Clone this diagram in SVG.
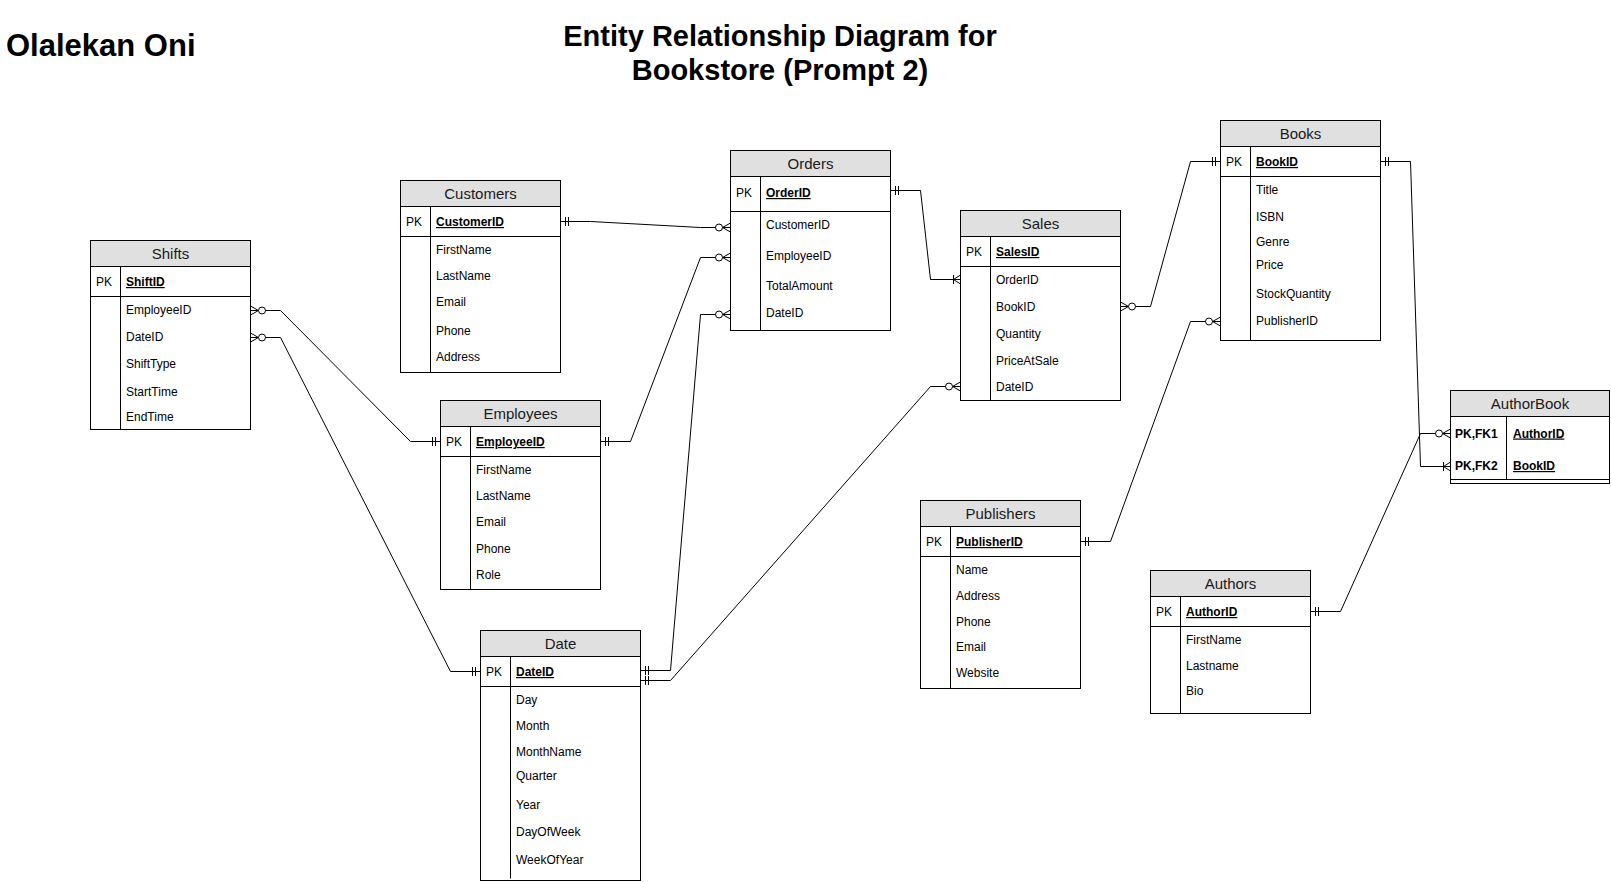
<svg xmlns="http://www.w3.org/2000/svg" width="1611" height="882" viewBox="0 0 1611 882">
<style>
.bg{fill:#fff}
.box{fill:#fff;stroke:#000;stroke-width:1}
.hdr{fill:#e0e0e0;stroke:#000;stroke-width:1}
.ln{fill:none;stroke:#000;stroke-width:1}
.t{font-family:"Liberation Sans",Arial,sans-serif;font-size:12px;fill:#000}
.pk{font-weight:bold;text-decoration:underline}
.b{font-weight:bold}
.h{font-family:"Liberation Sans",Arial,sans-serif;font-size:15px;text-anchor:middle;fill:#1a1a1a}
.title{font-family:"Liberation Sans",Arial,sans-serif;font-weight:bold;fill:#000}
.conn{fill:none;stroke:#000;stroke-width:1}
</style>
<defs>
<marker id="oo" markerUnits="userSpaceOnUse" orient="auto-start-reverse" viewBox="-20 -10 20 20" markerWidth="20" markerHeight="20" refX="0" refY="0">
<path d="M-5,-4.5V4.5M-8,-4.5V4.5" stroke="#000" fill="none"/>
</marker>
<marker id="zm" markerUnits="userSpaceOnUse" orient="auto-start-reverse" viewBox="-20 -10 20 20" markerWidth="20" markerHeight="20" refX="0" refY="0">
<path d="M-8,0L0,-4.5M-8,0L0,4.5M-8,0H0" stroke="#000" fill="none"/>
<circle cx="-11.5" cy="0" r="3.5" fill="#fff" stroke="#000"/>
</marker>
<marker id="om" markerUnits="userSpaceOnUse" orient="auto-start-reverse" viewBox="-20 -10 20 20" markerWidth="20" markerHeight="20" refX="0" refY="0">
<path d="M-7,0L0,-4.5M-7,0L0,4.5M-7,-4.5V4.5" stroke="#000" fill="none"/>
</marker>
</defs>
<rect class="bg" x="0" y="0" width="1611" height="882"/>

<text class="title" x="6" y="56" font-size="31">Olalekan Oni</text>
<text class="title" x="780" y="46" font-size="29" text-anchor="middle">Entity Relationship Diagram for</text>
<text class="title" x="780" y="80" font-size="29" text-anchor="middle">Bookstore (Prompt 2)</text>

<g id="connectors">
<path class="conn" d="M250.5,310.5H280.5L410.5,441.5H440.5" marker-start="url(#zm)" marker-end="url(#oo)"/>
<path class="conn" d="M250.5,337.5H280.5L450.5,671.5H480.5" marker-start="url(#zm)" marker-end="url(#oo)"/>
<path class="conn" d="M560.5,221.5H590.5L700.5,227.5H730.5" marker-start="url(#oo)" marker-end="url(#zm)"/>
<path class="conn" d="M600.5,441.5H630.5L700.5,257.5H730.5" marker-start="url(#oo)" marker-end="url(#zm)"/>
<path class="conn" d="M640.5,670.5H670.5L700.5,314.5H730.5" marker-start="url(#oo)" marker-end="url(#zm)"/>
<path class="conn" d="M640.5,680.5H670.5L930.5,386.5H960.5" marker-start="url(#oo)" marker-end="url(#zm)"/>
<path class="conn" d="M890.5,190.5H920.5L930.5,279.5H960.5" marker-start="url(#oo)" marker-end="url(#om)"/>
<path class="conn" d="M1120.5,306.5H1150.5L1190.5,161.5H1220.5" marker-start="url(#zm)" marker-end="url(#oo)"/>
<path class="conn" d="M1080.5,541.5H1110.5L1190.5,321.5H1220.5" marker-start="url(#oo)" marker-end="url(#zm)"/>
<path class="conn" d="M1380.5,161.5H1410.5L1420.5,466.5H1450.5" marker-start="url(#oo)" marker-end="url(#om)"/>
<path class="conn" d="M1310.5,611.5H1340.5L1420.5,433.5H1450.5" marker-start="url(#oo)" marker-end="url(#zm)"/>
</g>

<g id="shifts">
<rect class="box" x="90.5" y="240.5" width="160" height="189"/>
<rect class="hdr" x="90.5" y="240.5" width="160" height="26"/>
<path class="ln" d="M90.5,296.5H250.5M120.5,266.5V429.5"/>
<text class="h" x="170.5" y="258.5">Shifts</text>
<text class="t" x="96" y="286">PK</text>
<text class="t pk" x="126" y="286">ShiftID</text>
<text class="t" x="126" y="314">EmployeeID</text>
<text class="t" x="126" y="341">DateID</text>
<text class="t" x="126" y="368">ShiftType</text>
<text class="t" x="126" y="396">StartTime</text>
<text class="t" x="126" y="421">EndTime</text>
</g>

<g id="customers">
<rect class="box" x="400.5" y="180.5" width="160" height="192"/>
<rect class="hdr" x="400.5" y="180.5" width="160" height="26"/>
<path class="ln" d="M400.5,236.5H560.5M430.5,206.5V372.5"/>
<text class="h" x="480.5" y="198.5">Customers</text>
<text class="t" x="406" y="226">PK</text>
<text class="t pk" x="436" y="226">CustomerID</text>
<text class="t" x="436" y="254">FirstName</text>
<text class="t" x="436" y="280">LastName</text>
<text class="t" x="436" y="306">Email</text>
<text class="t" x="436" y="335">Phone</text>
<text class="t" x="436" y="361">Address</text>
</g>

<g id="orders">
<rect class="box" x="730.5" y="150.5" width="160" height="180"/>
<rect class="hdr" x="730.5" y="150.5" width="160" height="26"/>
<path class="ln" d="M730.5,211.5H890.5M760.5,176.5V330.5"/>
<text class="h" x="810.5" y="168.5">Orders</text>
<text class="t" x="736" y="197">PK</text>
<text class="t pk" x="766" y="197">OrderID</text>
<text class="t" x="766" y="229">CustomerID</text>
<text class="t" x="766" y="260">EmployeeID</text>
<text class="t" x="766" y="290">TotalAmount</text>
<text class="t" x="766" y="317">DateID</text>
</g>

<g id="employees">
<rect class="box" x="440.5" y="400.5" width="160" height="189"/>
<rect class="hdr" x="440.5" y="400.5" width="160" height="26"/>
<path class="ln" d="M440.5,456.5H600.5M470.5,426.5V589.5"/>
<text class="h" x="520.5" y="418.5">Employees</text>
<text class="t" x="446" y="446">PK</text>
<text class="t pk" x="476" y="446">EmployeeID</text>
<text class="t" x="476" y="474">FirstName</text>
<text class="t" x="476" y="500">LastName</text>
<text class="t" x="476" y="526">Email</text>
<text class="t" x="476" y="553">Phone</text>
<text class="t" x="476" y="579">Role</text>
</g>

<g id="date">
<rect class="box" x="480.5" y="630.5" width="160" height="250"/>
<rect class="hdr" x="480.5" y="630.5" width="160" height="26"/>
<path class="ln" d="M480.5,686.5H640.5M510.5,656.5V878.5"/>
<text class="h" x="560.5" y="648.5">Date</text>
<text class="t" x="486" y="676">PK</text>
<text class="t pk" x="516" y="676">DateID</text>
<text class="t" x="516" y="704">Day</text>
<text class="t" x="516" y="730">Month</text>
<text class="t" x="516" y="756">MonthName</text>
<text class="t" x="516" y="780">Quarter</text>
<text class="t" x="516" y="809">Year</text>
<text class="t" x="516" y="836">DayOfWeek</text>
<text class="t" x="516" y="864">WeekOfYear</text>
</g>

<g id="sales">
<rect class="box" x="960.5" y="210.5" width="160" height="190"/>
<rect class="hdr" x="960.5" y="210.5" width="160" height="26"/>
<path class="ln" d="M960.5,266.5H1120.5M990.5,236.5V400.5"/>
<text class="h" x="1040.5" y="228.5">Sales</text>
<text class="t" x="966" y="256">PK</text>
<text class="t pk" x="996" y="256">SalesID</text>
<text class="t" x="996" y="284">OrderID</text>
<text class="t" x="996" y="311">BookID</text>
<text class="t" x="996" y="338">Quantity</text>
<text class="t" x="996" y="365">PriceAtSale</text>
<text class="t" x="996" y="391">DateID</text>
</g>

<g id="books">
<rect class="box" x="1220.5" y="120.5" width="160" height="220"/>
<rect class="hdr" x="1220.5" y="120.5" width="160" height="26"/>
<path class="ln" d="M1220.5,176.5H1380.5M1250.5,146.5V340.5"/>
<text class="h" x="1300.5" y="138.5">Books</text>
<text class="t" x="1226" y="166">PK</text>
<text class="t pk" x="1256" y="166">BookID</text>
<text class="t" x="1256" y="194">Title</text>
<text class="t" x="1256" y="221">ISBN</text>
<text class="t" x="1256" y="246">Genre</text>
<text class="t" x="1256" y="269">Price</text>
<text class="t" x="1256" y="298">StockQuantity</text>
<text class="t" x="1256" y="325">PublisherID</text>
</g>

<g id="publishers">
<rect class="box" x="920.5" y="500.5" width="160" height="188"/>
<rect class="hdr" x="920.5" y="500.5" width="160" height="26"/>
<path class="ln" d="M920.5,556.5H1080.5M950.5,526.5V688.5"/>
<text class="h" x="1000.5" y="518.5">Publishers</text>
<text class="t" x="926" y="546">PK</text>
<text class="t pk" x="956" y="546">PublisherID</text>
<text class="t" x="956" y="574">Name</text>
<text class="t" x="956" y="600">Address</text>
<text class="t" x="956" y="626">Phone</text>
<text class="t" x="956" y="651">Email</text>
<text class="t" x="956" y="677">Website</text>
</g>

<g id="authors">
<rect class="box" x="1150.5" y="570.5" width="160" height="143"/>
<rect class="hdr" x="1150.5" y="570.5" width="160" height="26"/>
<path class="ln" d="M1150.5,626.5H1310.5M1180.5,596.5V713.5"/>
<text class="h" x="1230.5" y="588.5">Authors</text>
<text class="t" x="1156" y="616">PK</text>
<text class="t pk" x="1186" y="616">AuthorID</text>
<text class="t" x="1186" y="644">FirstName</text>
<text class="t" x="1186" y="670">Lastname</text>
<text class="t" x="1186" y="695">Bio</text>
</g>

<g id="authorbook">
<rect class="box" x="1450.5" y="390.5" width="159" height="93"/>
<rect class="hdr" x="1450.5" y="390.5" width="159" height="26"/>
<path class="ln" d="M1450.5,479.5H1609.5M1506.5,416.5V479.5"/>
<text class="h" x="1530" y="408.5">AuthorBook</text>
<text class="t b" x="1455" y="437.5">PK,FK1</text>
<text class="t pk" x="1513" y="437.5">AuthorID</text>
<text class="t b" x="1455" y="470">PK,FK2</text>
<text class="t pk" x="1513" y="470">BookID</text>
</g>
</svg>
